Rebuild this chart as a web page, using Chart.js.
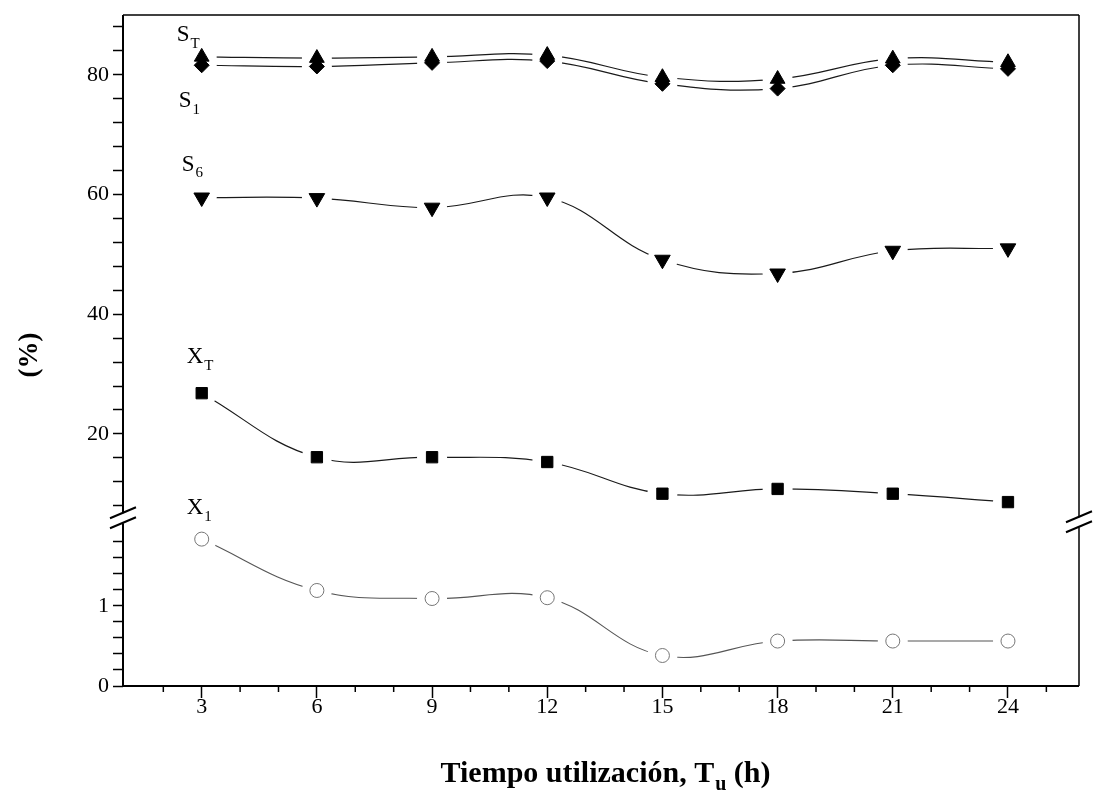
<!DOCTYPE html>
<html><head><meta charset="utf-8">
<script src="https://cdn.jsdelivr.net/npm/chart.js@4/dist/chart.umd.min.js"></script>
<style>html,body{margin:0;padding:0;background:#fff;overflow:hidden}canvas{display:block}</style>
</head><body><canvas id="c" width="1094" height="797" style="width:1094px;height:797px"></canvas>
<script>
// ---- data ----
const hours = [3, 6, 9, 12, 15, 18, 21, 24];
const sT = [83.0, 82.8, 83.0, 83.3, 79.6, 79.3, 82.7, 82.1];
const s1 = [81.6, 81.4, 82.0, 82.3, 78.5, 77.7, 81.6, 81.0];
const s6 = [59.5, 59.4, 57.8, 59.5, 49.1, 46.8, 50.6, 51.0];
const xT = [26.8, 16.1, 16.1, 15.3, 10.0, 10.8, 10.0, 8.6];
const x1 = [1.83, 1.19, 1.09, 1.10, 0.38, 0.56, 0.56, 0.56];
const xTickLabels = [3, 6, 9, 12, 15, 18, 21, 24];
const yUpperTickLabels = [20, 40, 60, 80];
const yLowerTickLabels = [0, 1];
const seriesLabels = [
  {main: 'S', sub: 'T'},
  {main: 'S', sub: '1'},
  {main: 'S', sub: '6'},
  {main: 'X', sub: 'T'},
  {main: 'X', sub: '1'}
];
const xTitle = {main: 'Tiempo utilización, T', sub: 'u', tail: ' (h)'};
const yTitle = '(%)';

const SERIF = '"Liberation Serif", "DejaVu Serif", serif';
const pts = arr => hours.map((h, i) => ({x: h, y: arr[i]}));

function lineDs(arr, axis, color, w) {
  return {data: pts(arr), yAxisID: axis, borderColor: color, borderWidth: w,
    pointRadius: 0, pointHoverRadius: 0, tension: 0.4, fill: false, order: 3};
}
function haloDs(arr, axis) {
  return {data: pts(arr), yAxisID: axis, showLine: false, pointRadius: 15,
    pointBackgroundColor: '#fff', pointBorderWidth: 0, pointHoverRadius: 0, order: 2};
}
function markDs(arr, axis, style, r, rot, bg, bc, bw) {
  return {data: pts(arr), yAxisID: axis, showLine: false, pointStyle: style,
    pointRadius: r, pointRotation: rot, pointBackgroundColor: bg,
    pointBorderColor: bc, pointBorderWidth: bw, pointHoverRadius: r, order: 1};
}
const ZERO = {left: 0, top: 0, right: 0, bottom: 0};
function noPad(s) {
  s.paddingTop = 0; s.paddingBottom = 0; s.paddingLeft = 0; s.paddingRight = 0;
  if (s._margins) Object.assign(s._margins, ZERO);
  s.getPadding = () => Object.assign({}, ZERO);
}

const decoPlugin = {
  id: 'deco',
  afterDraw(chart) {
    const ctx = chart.ctx;
    const {left, right, top, bottom} = chart.chartArea;
    const xs = chart.scales.x;
    const yTop = chart.scales.yTop;
    ctx.save();
    ctx.strokeStyle = '#000';
    const ln = (a, b, c, d) => { ctx.beginPath(); ctx.moveTo(a, b); ctx.lineTo(c, d); ctx.stroke(); };
    // frame
    ctx.lineWidth = 2;
    ln(left, top, left, bottom);
    ln(left - 1, bottom, right, bottom);
    ctx.lineWidth = 1.5;
    ln(left, top, right, top);
    ln(right, top, right, bottom);
    // minor x ticks
    for (let v = 2; v <= 25; v++) {
      if (xTickLabels.includes(v)) continue;
      const px = xs.getPixelForValue(v);
      ln(px, bottom, px, bottom + 6);
    }
    // axis breaks
    const yB = yTop.bottom;
    [[left, 0], [right, 4]].forEach(([ax, off]) => {
      const yb = yB + off;
      ctx.fillStyle = '#fff';
      ctx.fillRect(ax - 3, yb - 5, 6, 10);
      ctx.lineWidth = 2;
      ln(ax - 13, yb, ax + 13, yb - 11);
      ln(ax - 13, yb + 10, ax + 13, yb - 1);
    });
    // series labels
    const anchors = [
      [sT, 'yTop', -19, -22],
      [s1, 'yTop', -17, 36],
      [s6, 'yTop', -14, -33],
      [xT, 'yTop', -9, -36],
      [x1, 'yBot', -9, -31]
    ];
    ctx.fillStyle = '#000';
    ctx.textBaseline = 'middle';
    ctx.textAlign = 'left';
    anchors.forEach(([arr, axis, dx, dy], i) => {
      const px = xs.getPixelForValue(hours[0]) + dx;
      const py = chart.scales[axis].getPixelForValue(arr[0]) + dy;
      ctx.font = '23px ' + SERIF;
      ctx.fillText(seriesLabels[i].main, px - 6, py);
      const w = ctx.measureText(seriesLabels[i].main).width;
      ctx.font = '15px ' + SERIF;
      ctx.fillText(seriesLabels[i].sub, px - 6 + w + 1, py + 9);
    });
    // x title
    ctx.textBaseline = 'alphabetic';
    const fMain = 'bold 30px ' + SERIF, fSub = 'bold 20px ' + SERIF;
    ctx.font = fMain;
    const w1 = ctx.measureText(xTitle.main).width;
    const w3 = ctx.measureText(xTitle.tail).width;
    ctx.font = fSub;
    const w2 = ctx.measureText(xTitle.sub).width;
    const total = w1 + w2 + w3;
    const x0 = 605 - total / 2;
    const base = 782;
    ctx.font = fMain; ctx.fillText(xTitle.main, x0, base);
    ctx.font = fSub; ctx.fillText(xTitle.sub, x0 + w1 + 1, base + 8);
    ctx.font = fMain; ctx.fillText(xTitle.tail, x0 + w1 + w2 + 1, base);
    // y title
    ctx.save();
    ctx.translate(30, 355);
    ctx.rotate(-Math.PI / 2);
    ctx.textAlign = 'center';
    ctx.textBaseline = 'middle';
    ctx.font = 'bold 27px ' + SERIF;
    ctx.fillText(yTitle, 0, 0);
    ctx.restore();
    ctx.restore();
  }
};

const tickFont = {family: SERIF, size: 22};
const yGrid = {drawOnChartArea: false, tickLength: 10, tickColor: '#000', tickWidth: 1.5};

new Chart(document.getElementById('c'), {
  type: 'line',
  data: {
    datasets: [
      lineDs(sT, 'yTop', '#1a1a1a', 1.2),
      lineDs(s1, 'yTop', '#1a1a1a', 1.2),
      lineDs(s6, 'yTop', '#1a1a1a', 1.2),
      lineDs(xT, 'yTop', '#1a1a1a', 1.2),
      lineDs(x1, 'yBot', '#555', 1.1),
      haloDs(sT, 'yTop'), haloDs(s1, 'yTop'), haloDs(s6, 'yTop'), haloDs(xT, 'yTop'), haloDs(x1, 'yBot'),
      markDs(s1, 'yTop', 'rectRot', 7.5, 0, '#000', '#000', 1),
      markDs(sT, 'yTop', 'triangle', 8.5, 0, '#000', '#000', 1),
      markDs(s6, 'yTop', 'triangle', 9, 180, '#000', '#000', 1),
      markDs(xT, 'yTop', 'rect', 8, 0, '#000', '#000', 1),
      markDs(x1, 'yBot', 'circle', 7, 0, '#fff', '#777', 1)
    ]
  },
  options: {
    responsive: false, animation: false, devicePixelRatio: 1,
    layout: {padding: {left: 0, right: 9, top: 10, bottom: 0}},
    plugins: {legend: {display: false}, tooltip: {enabled: false}},
    scales: {
      x: {
        type: 'linear', min: 0.95, max: 25.85,
        afterBuildTicks: s => { s.ticks = []; for (let v = 1; v <= 25; v++) s.ticks.push({value: v}); },
        afterFit: s => { s.height = 111; noPad(s); },
        grid: {drawOnChartArea: false, tickLength: 12, tickWidth: 1.5,
          tickColor: c => (c.tick && xTickLabels.includes(c.tick.value)) ? '#000' : 'rgba(0,0,0,0)'},
        border: {display: false},
        ticks: {autoSkip: false, maxRotation: 0, padding: -4, color: '#000', font: tickFont,
          callback: v => xTickLabels.includes(v) ? String(v) : ''}
      },
      yBot: {
        type: 'linear', position: 'left', stack: 'v', stackWeight: 1, min: 0, max: 2.09,
        afterBuildTicks: s => { s.ticks = []; for (let k = 0; k <= 9; k++) s.ticks.push({value: Math.round(k * 2) / 10}); },
        afterFit: s => { s.width = 123; noPad(s); },
        grid: yGrid, border: {display: false},
        ticks: {autoSkip: false, padding: 4, color: '#000', font: tickFont,
          callback: v => yLowerTickLabels.includes(v) ? String(v) : ''}
      },
      yTop: {
        type: 'linear', position: 'left', stack: 'v', stackWeight: 3, min: 5.9, max: 90,
        afterBuildTicks: s => { s.ticks = []; for (let v = 8; v <= 88; v += 4) s.ticks.push({value: v}); },
        afterFit: s => { s.width = 123; noPad(s); },
        grid: yGrid, border: {display: false},
        ticks: {autoSkip: false, padding: 4, color: '#000', font: tickFont,
          callback: v => yUpperTickLabels.includes(v) ? String(v) : ''}
      }
    }
  },
  plugins: [decoPlugin]
});
</script>
</body></html>
